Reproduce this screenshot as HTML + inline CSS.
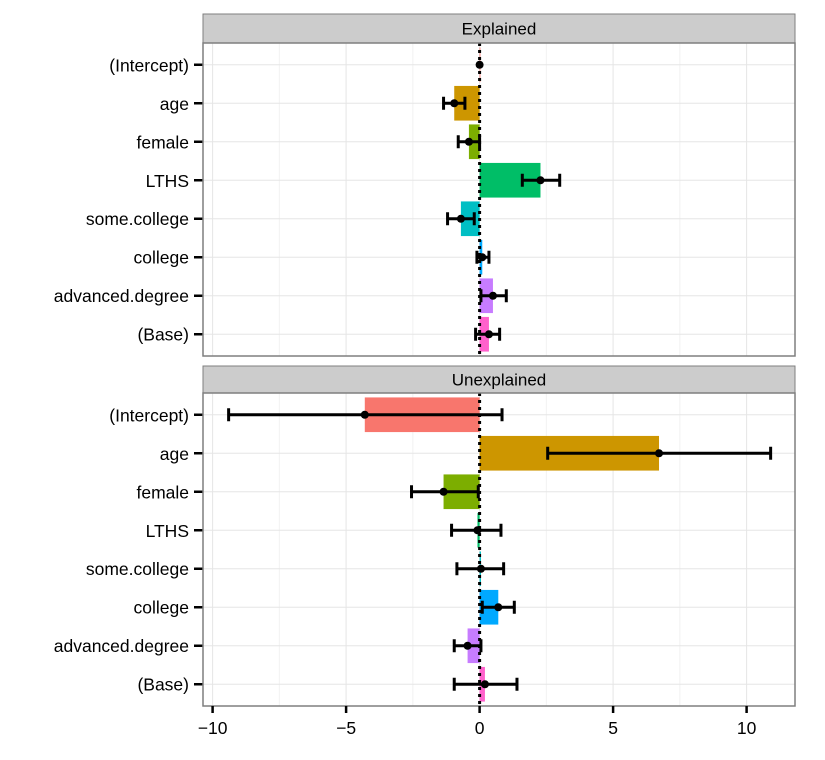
<!DOCTYPE html>
<html><head><meta charset="utf-8"><style>
html,body{margin:0;padding:0;background:#fff;}
svg text{font-family:"Liberation Sans",sans-serif;}
</style></head><body>
<svg id="chart" width="825" height="755" xmlns="http://www.w3.org/2000/svg"></svg>
<script>
const categories = ["(Intercept)","age","female","LTHS","some.college","college","advanced.degree","(Base)"];
const colors = ["#F8766D","#CD9600","#7CAE00","#00BE67","#00BFC4","#00A9FF","#C77CFF","#FF61CC"];
const explainedValues = [0.0, -0.95, -0.4, 2.28, -0.7, 0.1, 0.5, 0.35];
const explainedLow = [0.0, -1.35, -0.8, 1.6, -1.2, -0.1, 0.05, -0.15];
const explainedHigh = [0.0, -0.55, 0.0, 3.0, -0.2, 0.35, 1.0, 0.75];
const unexplainedValues = [-4.3, 6.72, -1.35, -0.08, 0.05, 0.7, -0.45, 0.2];
const unexplainedLow = [-9.4, 2.55, -2.55, -1.05, -0.85, 0.1, -0.95, -0.95];
const unexplainedHigh = [0.84, 10.9, -0.05, 0.8, 0.9, 1.3, 0.05, 1.4];
const xTicks = [-10, -5, 0, 5, 10];
const xMinor = [-7.5, -2.5, 2.5, 7.5];
const panelTitles = ["Explained", "Unexplained"];

const NS = "http://www.w3.org/2000/svg";
const svg = document.getElementById("chart");
function mk(tag, attrs, parent) {
  const e = document.createElementNS(NS, tag);
  for (const k in attrs) e.setAttribute(k, attrs[k]);
  (parent || svg).appendChild(e);
  return e;
}
const PL = 203, PR = 795;
const x = v => 479.6 + v * 26.7;
const panels = [
  {stripTop: 14, top: 43, bottom: 356, vals: explainedValues, lo: explainedLow, hi: explainedHigh},
  {stripTop: 366, top: 393, bottom: 706, vals: unexplainedValues, lo: unexplainedLow, hi: unexplainedHigh}
];
panels.forEach((p, pi) => {
  const g = mk("g", {});
  
  
  const strip = mk("rect", {x: PL, y: p.stripTop, width: PR - PL, height: p.top - p.stripTop, fill: "#cccccc", stroke: "#7f7f7f", "stroke-width": 1}, g);
  
  
  const st = mk("text", {x: (PL + PR) / 2, y: (p.stripTop + p.top) / 2 + 6, "text-anchor": "middle", "font-size": 17, fill: "#000"}, g);
  st.textContent = panelTitles[pi];
  
  
  const n = categories.length;
  const step = (p.bottom - p.top) / (n + 0.13);
  const y = i => p.top + step * 0.565 + i * step;
  xMinor.forEach(v => mk("line", {x1: x(v), x2: x(v), y1: p.top, y2: p.bottom, stroke: "#f2f2f2", "stroke-width": 1}, g));
  xTicks.forEach(v => mk("line", {x1: x(v), x2: x(v), y1: p.top, y2: p.bottom, stroke: "#e5e5e5", "stroke-width": 1}, g));
  categories.forEach((c, i) => {
    mk("line", {x1: PL, x2: PR, y1: y(i), y2: y(i), stroke: "#e5e5e5", "stroke-width": 1}, g);
    mk("line", {x1: PL - 9, x2: PL, y1: y(i), y2: y(i), stroke: "#000", "stroke-width": 2.5}, g);
    const t = mk("text", {x: PL - 14, y: y(i) + 6.5, "text-anchor": "end", "font-size": 17.5, fill: "#000"}, g);
    t.textContent = c;
    
    
  });
  const bh = step * 0.9;
  categories.forEach((c, i) => {
    const v = p.vals[i];
    const b = mk("rect", {x: Math.min(x(0), x(v)), y: y(i) - bh / 2, width: Math.max(Math.abs(x(v) - x(0)), 0.8), height: bh, fill: colors[i]}, g);
    
    
  });
  mk("line", {x1: x(0), x2: x(0), y1: p.top, y2: p.bottom, stroke: "#000", "stroke-width": 3, "stroke-dasharray": "3,4"}, g);
  categories.forEach((c, i) => {
    const eb = mk("g", {stroke: "#000", "stroke-width": 3}, g);
    
    
    const l = x(p.lo[i]), h = x(p.hi[i]);
    if (h - l > 1) {
      mk("line", {x1: l, x2: h, y1: y(i), y2: y(i)}, eb);
      mk("line", {x1: l, x2: l, y1: y(i) - 6.5, y2: y(i) + 6.5}, eb);
      mk("line", {x1: h, x2: h, y1: y(i) - 6.5, y2: y(i) + 6.5}, eb);
    }
    const pt = mk("circle", {cx: x(p.vals[i]), cy: y(i), r: 4, fill: "#000", stroke: "none"}, g);
    
    
  });
  mk("rect", {x: PL, y: p.top, width: PR - PL, height: p.bottom - p.top, fill: "none", stroke: "#7f7f7f", "stroke-width": 1.5}, g);
});
const ax = mk("g", {});


xTicks.forEach(v => {
  mk("line", {x1: x(v), x2: x(v), y1: 706, y2: 713, stroke: "#000", "stroke-width": 2.5}, ax);
  const t = mk("text", {x: x(v), y: 734, "text-anchor": "middle", "font-size": 17.5, fill: "#000"}, ax);
  t.textContent = v < 0 ? "\u2212" + Math.abs(v) : String(v);
  
  
});
</script>
</body></html>
